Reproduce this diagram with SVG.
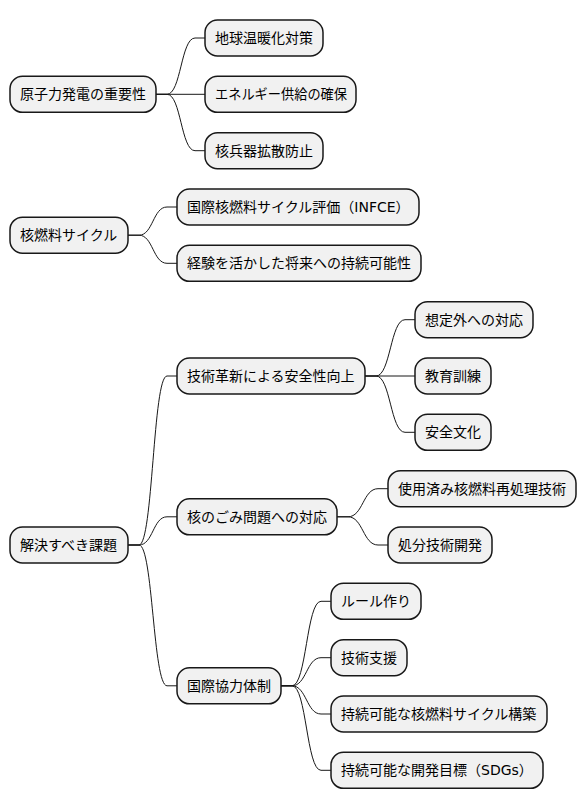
<svg xmlns="http://www.w3.org/2000/svg" width="586" height="809" viewBox="0 0 586 809">
<style>
.n rect{fill:#F1F1F1;stroke:#181818;stroke-width:1.5}
.n text{font-family:"DejaVu Sans","Noto Sans CJK JP",sans-serif;font-size:14px;fill:#000}
#connectors path{fill:none;stroke:#181818;stroke-width:1}
</style>
<rect width="586" height="809" fill="#FFFFFF"/>
<g id="connectors">
<path d="M156,94.3 H167 C181,94.3 181,38 195,38 H205"/>
<path d="M156,94.3 H205"/>
<path d="M156,94.3 H167 C181,94.3 181,150.7 195,150.7 H205"/>
<path d="M128,235.2 H139 C153,235.2 153,207 167,207 H177"/>
<path d="M128,235.2 H139 C153,235.2 153,263.3 167,263.3 H177"/>
<path d="M128,545 H139 C153,545 153,376 167,376 H177"/>
<path d="M128,545 H139 C153,545 153,516.8 167,516.8 H177"/>
<path d="M128,545 H139 C153,545 153,685.8 167,685.8 H177"/>
<path d="M365,376 H376 C390.5,376 390.5,319.7 405,319.7 H415"/>
<path d="M365,376 H415"/>
<path d="M365,376 H376 C390.5,376 390.5,432.3 405,432.3 H415"/>
<path d="M337,516.8 H348 C363,516.8 363,488.7 378,488.7 H388"/>
<path d="M337,516.8 H348 C363,516.8 363,545 378,545 H388"/>
<path d="M281,685.8 H292 C306.5,685.8 306.5,601.3 321,601.3 H331"/>
<path d="M281,685.8 H292 C306.5,685.8 306.5,657.7 321,657.7 H331"/>
<path d="M281,685.8 H292 C306.5,685.8 306.5,714 321,714 H331"/>
<path d="M281,685.8 H292 C306.5,685.8 306.5,770.3 321,770.3 H331"/>
</g>
<g id="n1" class="n"><rect x="10" y="76.3" width="146" height="36" rx="12.5"/><text x="20" y="99.3">原子力発電の重要性</text></g>
<g id="n1a" class="n"><rect x="205" y="20" width="118" height="36" rx="12.5"/><text x="215" y="43">地球温暖化対策</text></g>
<g id="n1b" class="n"><rect x="205" y="76.3" width="151" height="36" rx="12.5"/><text x="215" y="99.3" textLength="132" lengthAdjust="spacingAndGlyphs">エネルギー供給の確保</text></g>
<g id="n1c" class="n"><rect x="205" y="132.7" width="118" height="36" rx="12.5"/><text x="215" y="155.7">核兵器拡散防止</text></g>
<g id="n2" class="n"><rect x="10" y="217.2" width="118" height="36" rx="12.5"/><text x="20" y="240.2">核燃料サイクル</text></g>
<g id="n2a" class="n"><rect x="177" y="189" width="242" height="36" rx="12.5"/><text x="187" y="212">国際核燃料サイクル評価（INFCE）</text></g>
<g id="n2b" class="n"><rect x="177" y="245.3" width="244" height="36" rx="12.5"/><text x="187" y="268.3">経験を活かした将来への持続可能性</text></g>
<g id="n3" class="n"><rect x="10" y="527" width="118" height="36" rx="12.5"/><text x="20" y="550">解決すべき課題</text></g>
<g id="n3a" class="n"><rect x="177" y="358" width="188" height="36" rx="12.5"/><text x="187" y="381">技術革新による安全性向上</text></g>
<g id="n3a1" class="n"><rect x="415" y="301.7" width="118" height="36" rx="12.5"/><text x="425" y="324.7">想定外への対応</text></g>
<g id="n3a2" class="n"><rect x="415" y="358" width="76" height="36" rx="12.5"/><text x="425" y="381">教育訓練</text></g>
<g id="n3a3" class="n"><rect x="415" y="414.3" width="76" height="36" rx="12.5"/><text x="425" y="437.3">安全文化</text></g>
<g id="n3b" class="n"><rect x="177" y="498.8" width="160" height="36" rx="12.5"/><text x="187" y="521.8">核のごみ問題への対応</text></g>
<g id="n3b1" class="n"><rect x="388" y="470.7" width="188" height="36" rx="12.5"/><text x="398" y="493.7">使用済み核燃料再処理技術</text></g>
<g id="n3b2" class="n"><rect x="388" y="527" width="104" height="36" rx="12.5"/><text x="398" y="550">処分技術開発</text></g>
<g id="n3c" class="n"><rect x="177" y="667.8" width="104" height="36" rx="12.5"/><text x="187" y="690.8">国際協力体制</text></g>
<g id="n3c1" class="n"><rect x="331" y="583.3" width="90" height="36" rx="12.5"/><text x="341" y="606.3">ルール作り</text></g>
<g id="n3c2" class="n"><rect x="331" y="639.7" width="76" height="36" rx="12.5"/><text x="341" y="662.7">技術支援</text></g>
<g id="n3c3" class="n"><rect x="331" y="696" width="216" height="36" rx="12.5"/><text x="341" y="719">持続可能な核燃料サイクル構築</text></g>
<g id="n3c4" class="n"><rect x="331" y="752.3" width="212" height="36" rx="12.5"/><text x="341" y="775.3">持続可能な開発目標（SDGs）</text></g>
</svg>
